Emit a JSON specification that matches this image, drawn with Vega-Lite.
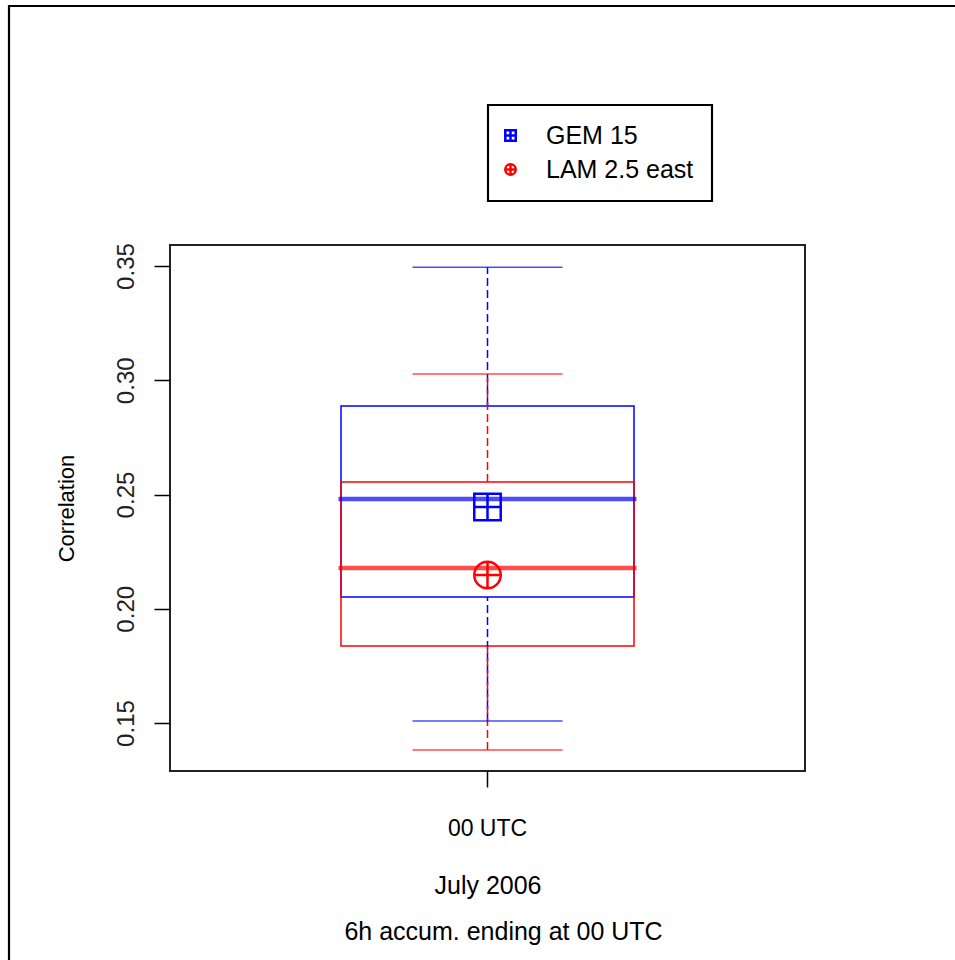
{
  "$schema": "https://vega.github.io/schema/vega-lite/v6.json",
  "width": 635,
  "height": 526,
  "autosize": {"type": "none"},
  "padding": {"left": 170, "top": 245, "right": 150, "bottom": 189},
  "background": "white",
  "config": {
    "view": {"stroke": "#222222", "strokeWidth": 2},
    "font": "Liberation Sans",
    "legend": {"strokeWidth": 2.2}
  },
  "title": {
    "text": "6h accum. ending at 00 UTC",
    "orient": "bottom",
    "anchor": "middle",
    "fontSize": 25,
    "fontWeight": "normal",
    "font": "Liberation Sans",
    "color": "black",
    "dx": 16,
    "offset": -57
  },
  "data": {
    "values": [
      {"series": "GEM 15", "hour": "00 UTC", "lo": 0.1509, "q1": 0.2051, "med": 0.248, "q3": 0.2887, "hi": 0.3495, "mean": 0.2445},
      {"series": "LAM 2.5 east", "hour": "00 UTC", "lo": 0.1382, "q1": 0.1837, "med": 0.2178, "q3": 0.2555, "hi": 0.3027, "mean": 0.2148}
    ]
  },
  "layer": [
    {
      "mark": {"type": "bar", "filled": false, "strokeWidth": 1.5},
      "encoding": {
        "x": {
          "field": "hour", "type": "nominal",
          "scale": {"paddingInner": 0, "paddingOuter": 0.5836},
          "axis": {
            "title": "July 2006", "titleFontSize": 25, "titleFontWeight": "normal", "titleColor": "black", "titlePadding": 33,
            "labelAngle": 0, "labelFontSize": 23, "labelColor": "black", "labelPadding": 30,
            "tickSize": 16, "tickColor": "black", "tickWidth": 1.5, "domain": false, "grid": false
          }
        },
        "y": {
          "field": "q1", "type": "quantitative",
          "scale": {"domain": [0.129, 0.3592], "nice": false, "zero": false},
          "axis": {
            "title": "Correlation", "titleFontSize": 22, "titleFontWeight": "normal", "titleColor": "black", "titlePadding": 36,
            "values": [0.15, 0.2, 0.25, 0.3, 0.35], "format": ".2f",
            "labelAngle": 270, "labelAlign": "center", "labelBaseline": "bottom", "labelFontSize": 24, "labelColor": "#222222", "labelPadding": 16,
            "tickSize": 16, "tickColor": "black", "tickWidth": 1.5, "domain": false, "grid": false
          }
        },
        "y2": {"field": "q3"},
        "stroke": {"field": "series", "type": "nominal", "scale": {"range": ["#0000FF", "#FF0000"]}, "legend": null},
        "opacity": {
          "field": "hour", "type": "ordinal", "scale": {"range": [1, 1]},
          "legend": {
            "orient": "none", "legendX": -161, "legendY": -239, "title": null,
            "strokeColor": "black", "padding": 480,
            "symbolSize": 0, "symbolStrokeWidth": 0, "symbolFillColor": "transparent", "symbolStrokeColor": "transparent", "labelOpacity": 0
          }
        }
      }
    },
    {
      "mark": {"type": "rule", "strokeWidth": 1.5, "strokeDash": [8, 4]},
      "encoding": {
        "x": {"field": "hour", "type": "nominal"},
        "y": {"field": "q3", "type": "quantitative"},
        "y2": {"field": "hi"},
        "stroke": {"field": "series", "type": "nominal", "legend": null}
      }
    },
    {
      "mark": {"type": "rule", "strokeWidth": 1.5, "strokeDash": [8, 4]},
      "encoding": {
        "x": {"field": "hour", "type": "nominal"},
        "y": {"field": "lo", "type": "quantitative"},
        "y2": {"field": "q1"},
        "stroke": {"field": "series", "type": "nominal", "legend": null}
      }
    },
    {
      "mark": {"type": "tick", "size": 150, "thickness": 1.5},
      "encoding": {
        "x": {"field": "hour", "type": "nominal"},
        "y": {"field": "hi", "type": "quantitative"},
        "fill": {"field": "series", "type": "nominal", "scale": {"range": ["#0000FF", "#FF0000"]}, "legend": null}
      }
    },
    {
      "mark": {"type": "tick", "size": 150, "thickness": 1.5},
      "encoding": {
        "x": {"field": "hour", "type": "nominal"},
        "y": {"field": "lo", "type": "quantitative"},
        "fill": {"field": "series", "type": "nominal", "legend": null}
      }
    },
    {
      "mark": {"type": "tick", "size": 298, "thickness": 4.5},
      "encoding": {
        "x": {"field": "hour", "type": "nominal"},
        "y": {"field": "med", "type": "quantitative"},
        "fill": {"field": "series", "type": "nominal", "legend": null}
      }
    },
    {
      "mark": {"type": "point", "filled": false, "size": 700, "strokeWidth": 2.5, "opacity": 1},
      "encoding": {
        "x": {"field": "hour", "type": "nominal"},
        "y": {"field": "mean", "type": "quantitative"},
        "color": {
          "field": "series", "type": "nominal",
          "scale": {"domain": ["GEM 15", "LAM 2.5 east"], "range": ["#0000FF", "#FF0000"]},
          "legend": {
            "orient": "none", "legendX": 318, "legendY": -140, "title": null,
            "strokeColor": "black", "fillColor": "white", "padding": 18,
            "symbolSize": 110, "symbolStrokeWidth": 2.5, "symbolOffset": -8,
            "labelFontSize": 25, "labelColor": "black", "labelOffset": 23, "rowPadding": 8
          }
        },
        "shape": {
          "field": "series", "type": "nominal",
          "scale": {"domain": ["GEM 15", "LAM 2.5 east"], "range": ["M-1,-1H1V1H-1Z M0,-1V1 M-1,0H1", "M-1,0A1,1 0 1,0 1,0A1,1 0 1,0 -1,0Z M0,-1V1 M-1,0H1"]},
          "legend": {
            "orient": "none", "legendX": 318, "legendY": -140, "title": null,
            "strokeColor": "black", "fillColor": "white", "padding": 18,
            "symbolSize": 110, "symbolStrokeWidth": 2.5, "symbolOffset": -8,
            "labelFontSize": 25, "labelColor": "black", "labelOffset": 23, "rowPadding": 8
          }
        }
      }
    }
  ]
}
